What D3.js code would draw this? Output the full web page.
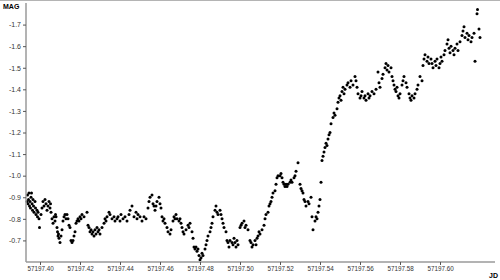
<!DOCTYPE html>
<html>
<head>
<meta charset="utf-8">
<script src="https://cdn.jsdelivr.net/npm/d3@7"></script>
<style>
  body { margin: 0; background: #fff; }
  svg text { font-family: "Liberation Sans", Arial, sans-serif; }
</style>
</head>
<body>
<div id="chart"></div>
<script>
// Julian date base and observation times (days after JD0)
var JD0 = 57197;
var obsTime = [
  0.3935,0.39375,0.394,0.39425,0.3945,0.39475,0.395,0.39525,0.3955,0.39575,0.396,0.39625,0.3965,0.39675,0.397,0.3975,0.39775,0.398,0.3985,0.39875,0.399,0.3995,0.39975,
  0.4005,0.401,0.4015,0.402,0.4025,0.403,0.4035,0.404,0.4045,0.405,0.40525,
  0.4055,0.406,0.4065,0.407,0.4075,0.40775,0.408,
  0.4085,0.40875,0.409,0.40925,0.4095,0.41,0.4105,0.411,
  0.4115,0.412,0.4125,0.413,0.4135,0.414,0.4145,
  0.415,0.4155,0.416,0.4165,0.417,0.4175,
  0.418,0.4185,0.419,0.4195,0.42,0.4205,0.421,0.422,0.4235,
  0.424,0.4245,0.425,0.4255,0.426,0.4265,0.427,0.4275,0.428,0.4285,0.429,0.4295,0.43,
  0.431,0.432,0.4325,0.433,0.4335,0.4345,0.435,
  0.436,0.437,0.4375,0.4385,0.439,0.44,0.4405,0.4415,0.4425,0.4435,
  0.4445,0.445,0.446,0.447,0.448,0.4485,0.449,0.45,0.451,0.452,0.453,
  0.454,0.4545,0.455,0.456,0.4565,0.457,0.4575,0.458,0.4585,0.4595,0.46,0.4605,
  0.461,0.4615,0.462,0.4625,0.4635,0.464,0.465,0.4655,
  0.4665,0.467,0.4675,0.468,0.4685,0.4695,0.47,
  0.4705,0.471,0.4715,0.472,0.473,0.474,0.4745,0.475,0.476,0.4765,
  0.477,0.4775,0.478,0.4785,0.479,0.4795,0.48,0.4805,0.481,0.4815,0.4825,
  0.483,0.4835,0.484,0.485,0.4855,0.486,0.4865,0.4875,
  0.488,0.4885,0.489,0.49,0.4905,0.491,0.4915,0.492,0.493,
  0.4935,0.494,0.4945,0.495,0.496,0.4965,0.497,0.4975,0.498,0.4985,0.499,
  0.5,0.5005,0.501,0.502,0.5025,0.503,0.504,
  0.505,0.5055,0.506,0.5065,0.5075,0.508,0.5085,0.509,0.5095,0.51,0.511,
  0.512,0.5125,0.513,0.514,0.5145,0.515,0.5155,0.516,0.5165,0.5175,
  0.518,0.5185,0.519,0.52,0.5205,0.521,
  0.5215,0.522,0.5225,0.523,0.5235,0.524,0.525,0.5255,0.526,0.527,0.5275,0.528,0.529,
  0.53,0.5305,0.531,0.5315,0.532,0.5325,0.533,0.534,0.5345,0.5355,
  0.536,0.5365,0.5375,0.538,0.5385,0.539,0.5395,0.54,0.5405,
  0.541,0.5415,0.542,0.5425,0.543,0.5435,0.544,0.5445,0.545,0.5455,
  0.5465,0.547,0.5475,0.5485,0.549,0.5495,0.55,0.5505,0.551,0.5515,0.552,0.5525,
  0.5535,0.554,0.555,0.5555,0.5565,0.5575,0.558,0.5585,0.559,
  0.56,0.5605,0.561,0.562,0.5625,0.563,0.564,0.5645,0.565,0.566,0.567,0.568,
  0.569,0.5695,0.57,0.571,0.5715,0.5725,0.573,0.5735,0.574,0.5745,0.5755,0.576,
  0.5765,0.577,0.5775,0.578,0.5785,0.579,0.5795,0.58,0.581,0.5815,0.582,0.583,0.5835,
  0.5845,0.585,0.5855,0.586,0.587,0.5875,0.5885,0.589,0.59,0.591,
  0.5915,0.592,0.5925,0.5935,0.594,0.5945,0.5955,0.596,0.5965,0.5975,0.598,0.5985,
  0.5995,0.6,0.6005,0.601,0.602,0.6025,0.6035,0.604,0.6045,0.605,0.6055,0.6065,
  0.607,0.6075,0.6085,0.609,0.61,0.611,0.6115,0.612,0.6125,0.6135,0.614,0.6145,0.6155,0.616,0.617,0.6175,0.6185,0.61875,0.6195,0.62
];

// magnitudes, same order as obsTime
var obsMag = [
  -0.88,-0.91,-0.87,-0.89,-0.92,-0.86,-0.88,-0.85,-0.90,-0.92,-0.87,-0.84,-0.89,-0.86,-0.83,-0.88,-0.85,-0.82,-0.84,-0.81,-0.83,-0.80,-0.76,
  -0.82,-0.85,-0.88,-0.86,-0.89,-0.87,-0.84,-0.86,-0.88,-0.85,-0.87,
  -0.83,-0.80,-0.78,-0.81,-0.79,-0.82,-0.81,
  -0.76,-0.74,-0.72,-0.73,-0.71,-0.69,-0.72,-0.75,
  -0.79,-0.81,-0.82,-0.80,-0.82,-0.80,-0.77,
  -0.76,-0.70,-0.69,-0.70,-0.72,-0.74,
  -0.78,-0.79,-0.80,-0.79,-0.81,-0.80,-0.82,-0.81,-0.83,
  -0.77,-0.76,-0.74,-0.75,-0.73,-0.74,-0.72,-0.75,-0.73,-0.76,-0.74,-0.75,-0.73,
  -0.76,-0.78,-0.80,-0.79,-0.81,-0.83,-0.82,
  -0.80,-0.81,-0.79,-0.80,-0.81,-0.79,-0.82,-0.80,-0.81,-0.79,
  -0.82,-0.84,-0.86,-0.81,-0.83,-0.80,-0.82,-0.81,-0.79,-0.81,-0.80,
  -0.85,-0.88,-0.90,-0.91,-0.87,-0.86,-0.84,-0.86,-0.88,-0.90,-0.87,-0.85,
  -0.81,-0.79,-0.80,-0.78,-0.76,-0.74,-0.73,-0.75,
  -0.79,-0.81,-0.80,-0.82,-0.80,-0.79,-0.80,
  -0.78,-0.76,-0.74,-0.73,-0.75,-0.77,-0.76,-0.78,-0.74,-0.71,
  -0.67,-0.66,-0.67,-0.65,-0.66,-0.63,-0.61,-0.62,-0.64,-0.63,-0.66,
  -0.68,-0.70,-0.72,-0.74,-0.76,-0.78,-0.81,-0.84,
  -0.86,-0.83,-0.82,-0.84,-0.82,-0.80,-0.78,-0.76,-0.74,
  -0.70,-0.69,-0.67,-0.70,-0.69,-0.68,-0.71,-0.69,-0.67,-0.70,-0.68,
  -0.76,-0.77,-0.78,-0.79,-0.76,-0.77,-0.75,
  -0.70,-0.69,-0.67,-0.68,-0.70,-0.68,-0.71,-0.72,-0.74,-0.73,-0.75,
  -0.77,-0.80,-0.82,-0.83,-0.86,-0.87,-0.88,-0.90,-0.92,-0.93,
  -0.96,-0.99,-1.00,-1.00,-1.01,-0.99,
  -0.97,-0.96,-0.95,-0.96,-0.95,-0.96,-0.97,-0.98,-0.97,-0.99,-1.00,-1.02,-1.06,
  -0.96,-0.94,-0.93,-0.92,-0.89,-0.88,-0.86,-0.88,-0.87,-0.90,
  -0.81,-0.75,-0.79,-0.81,-0.80,-0.83,-0.86,-0.89,-0.97,
  -1.07,-1.09,-1.11,-1.13,-1.15,-1.14,-1.17,-1.19,-1.20,-1.24,
  -1.27,-1.29,-1.28,-1.31,-1.34,-1.36,-1.37,-1.35,-1.39,-1.41,-1.38,-1.40,
  -1.42,-1.43,-1.41,-1.44,-1.42,-1.46,-1.44,-1.41,-1.38,
  -1.36,-1.37,-1.39,-1.36,-1.37,-1.35,-1.38,-1.36,-1.37,-1.39,-1.38,-1.40,
  -1.48,-1.43,-1.41,-1.45,-1.47,-1.50,-1.52,-1.49,-1.51,-1.48,-1.50,-1.46,
  -1.44,-1.42,-1.40,-1.39,-1.41,-1.37,-1.36,-1.38,-1.42,-1.44,-1.46,-1.43,-1.41,
  -1.38,-1.36,-1.35,-1.37,-1.36,-1.38,-1.40,-1.42,-1.46,-1.44,
  -1.51,-1.54,-1.56,-1.53,-1.55,-1.52,-1.54,-1.52,-1.50,-1.53,-1.51,-1.54,
  -1.50,-1.52,-1.55,-1.53,-1.56,-1.58,-1.61,-1.63,-1.59,-1.57,-1.60,-1.58,
  -1.56,-1.59,-1.61,-1.58,-1.62,-1.65,-1.67,-1.69,-1.64,-1.66,-1.63,-1.65,-1.62,-1.64,-1.66,-1.53,-1.75,-1.77,-1.68,-1.64
];

var xTickVals = [0.40, 0.42, 0.44, 0.46, 0.48, 0.50, 0.52, 0.54, 0.56, 0.58, 0.60];
var yTickVals = [-0.7, -0.8, -0.9, -1.0, -1.1, -1.2, -1.3, -1.4, -1.5, -1.6, -1.7];

var W = 500, H = 280;
var plotL = 26, plotR = 495, plotT = 3, plotB = 262;

var svg = d3.select("#chart").append("svg")
  .attr("width", W)
  .attr("height", H);

// frame line at top
svg.append("line")
  .attr("x1", 0).attr("x2", W)
  .attr("y1", 0.5).attr("y2", 0.5)
  .attr("stroke", "#b4b4b4");

var x = d3.scaleLinear()
  .domain([0.393, 0.6275])
  .range([plotL, plotR]);

var y = d3.scaleLinear()
  .domain([-0.6, -1.8])
  .range([plotB, plotT]);

var data = obsTime.map(function(t, i) { return {t: t, m: obsMag[i]}; });

// points
svg.append("g")
  .selectAll("circle")
  .data(data)
  .enter()
  .append("circle")
  .attr("cx", function(d) { return x(d.t); })
  .attr("cy", function(d) { return y(d.m); })
  .attr("r", 1.5)
  .attr("fill", "#000");

// axes
var xAxis = d3.axisBottom(x)
  .tickValues(xTickVals)
  .tickSize(3)
  .tickPadding(2)
  .tickFormat(function(d) { return (JD0 + d).toFixed(2); });

var yAxis = d3.axisLeft(y)
  .tickValues(yTickVals)
  .tickSize(3)
  .tickPadding(2)
  .tickFormat(function(d) { return d.toFixed(1); });

var gx = svg.append("g")
  .attr("transform", "translate(0," + plotB + ")")
  .call(xAxis);
var gy = svg.append("g")
  .attr("transform", "translate(" + plotL + ",0)")
  .call(yAxis);

[gx, gy].forEach(function(g) {
  g.select(".domain").attr("stroke", "#9a9a9a").attr("stroke-width", 1.5);
  g.selectAll(".tick line").attr("stroke", "#555");
  g.selectAll(".tick text")
    .attr("fill", "#333");
});
gx.selectAll(".tick text").style("font-size", "6.3px");
gy.selectAll(".tick text").style("font-size", "7px");
gx.select(".domain").attr("d", "M" + plotL + ",0H" + plotR);
gy.select(".domain").attr("d", "M0," + plotB + "V" + plotT);

// axis titles
svg.append("text")
  .attr("x", 3)
  .attr("y", 9)
  .text("MAG")
  .style("font-size", "7px")
  .style("font-weight", "bold");

svg.append("text")
  .attr("x", 498)
  .attr("y", 278)
  .attr("text-anchor", "end")
  .text("JD")
  .style("font-size", "7px")
  .style("font-weight", "bold");
</script>
</body>
</html>
